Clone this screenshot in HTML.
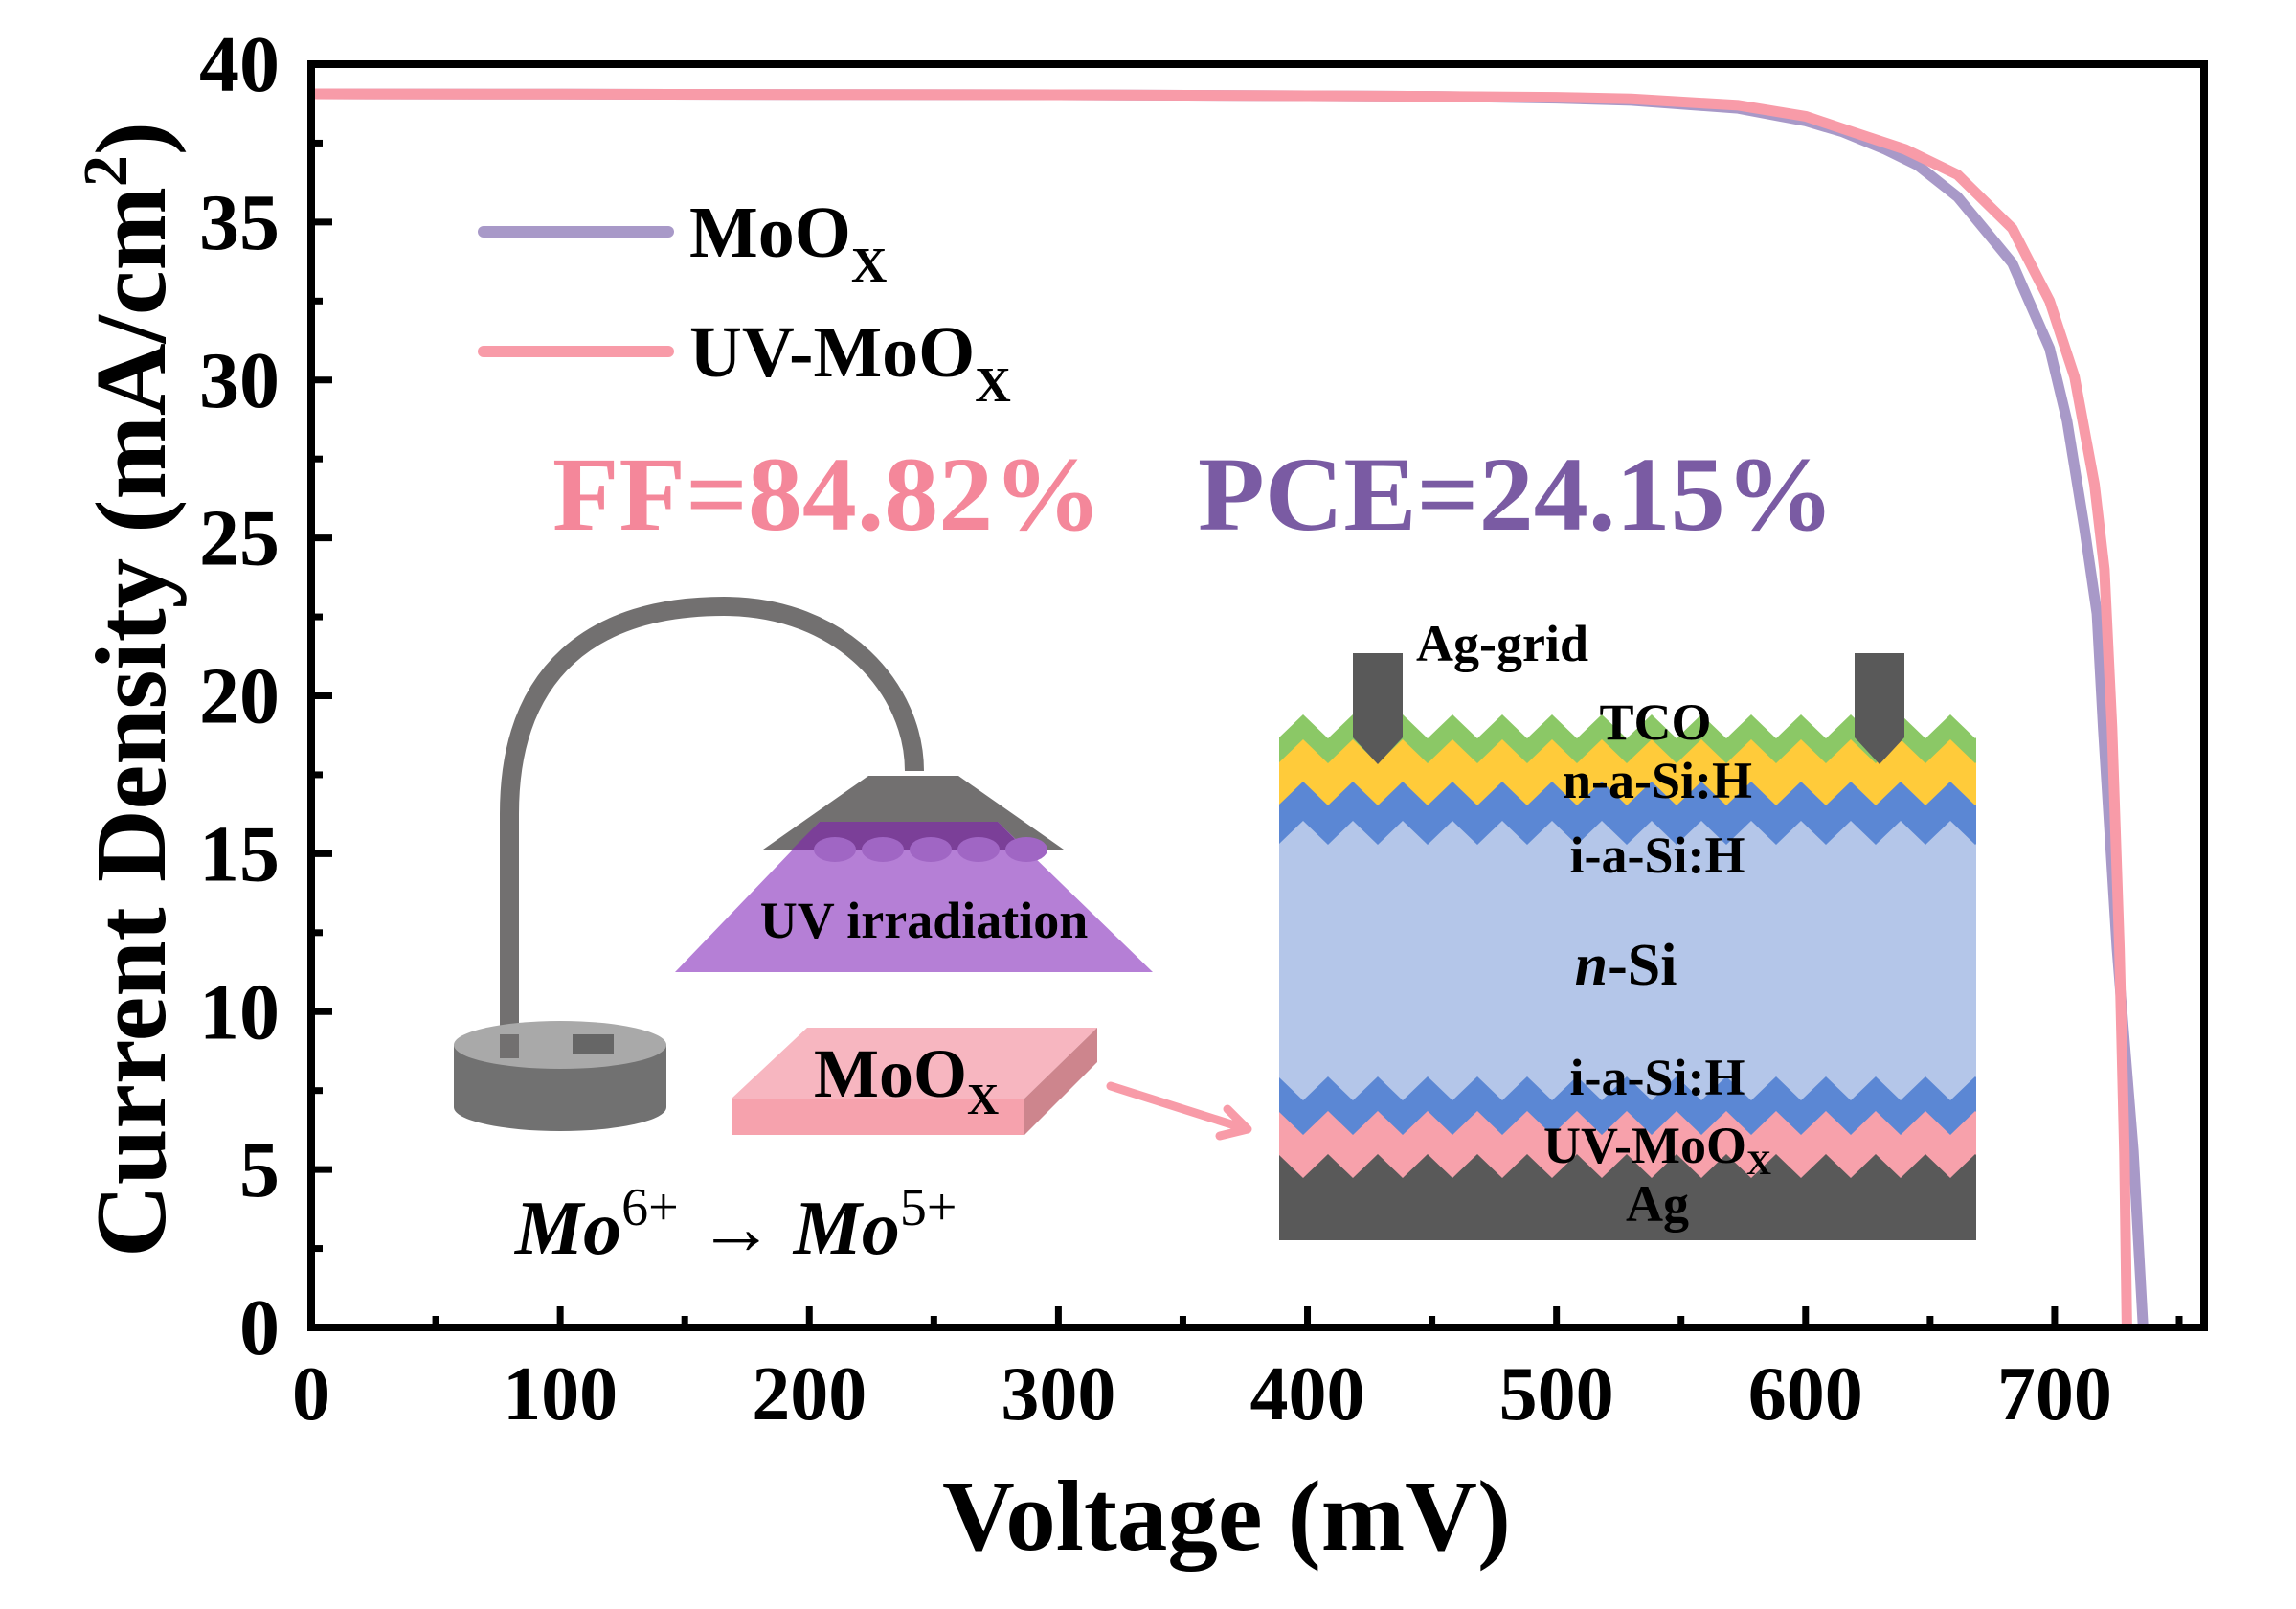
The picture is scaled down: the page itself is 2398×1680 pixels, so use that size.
<!DOCTYPE html>
<html><head><meta charset="utf-8"><style>
html,body{margin:0;padding:0;background:#fff;}
svg{display:block;}
text{font-family:"Liberation Serif",serif;font-weight:bold;}
</style></head><body>
<svg id="chart" width="2398" height="1680" viewBox="0 0 2398 1680" xmlns="http://www.w3.org/2000/svg">
<g id="inset"></g>
<g id="curves"></g>
<g id="axes"></g>
<g id="texts">
  <line x1="505" y1="242" x2="698" y2="242" stroke="#a899c8" stroke-width="12" stroke-linecap="round"/>
  <text x="720" y="268" font-size="76">MoO<tspan font-size="52" dy="26">X</tspan></text>
  <line x1="505" y1="367" x2="698" y2="367" stroke="#f89ba8" stroke-width="12" stroke-linecap="round"/>
  <text x="720" y="393" font-size="76">UV-MoO<tspan font-size="52" dy="26">X</tspan></text>
  <text x="577" y="553" font-size="110" fill="#f4879a" textLength="574" lengthAdjust="spacingAndGlyphs">FF=84.82%</text>
  <text x="1251" y="553" font-size="110" fill="#7a5ba3" textLength="665" lengthAdjust="spacingAndGlyphs">PCE=24.15%</text>
  <text x="1281" y="1618" font-size="105" text-anchor="middle">Voltage (mV)</text>
  <text transform="translate(172,720) rotate(-90)" x="0" y="0" font-size="105" text-anchor="middle">Current Density (mA/cm<tspan font-size="66" dy="-40">2</tspan><tspan dy="40">)</tspan></text>
</g>
</svg>
<script>
// Data
var voltageUV = [0,100,200,300,400,450,500,530,573,600,617,640,661,683,698,708,716,720,723,726,728,729];
var currentUV = [39.06,39.05,39.04,39.03,39.0,38.98,38.95,38.9,38.7,38.35,37.9,37.3,36.5,34.8,32.5,30.1,26.7,24.0,19.0,12.0,5.5,0];
var voltageMoOx = [0,100,200,300,400,450,500,530,573,600,615,632,645,661,683,698,705,712,717,719.5,725,731.6,735.5];
var currentMoOx = [39.06,39.05,39.04,39.03,39.0,38.98,38.92,38.85,38.6,38.2,37.85,37.3,36.8,35.8,33.7,31.0,28.7,25.3,22.6,19.0,12.0,5.6,0];
var xTicks = [0,100,200,300,400,500,600,700];
var yTicks = [0,5,10,15,20,25,30,35,40];

var NS = "http://www.w3.org/2000/svg";
var X0=325, X1=2302, Y0=1386, Y1=67, XMAX=760, YMAX=40;
function sx(v){return X0+(X1-X0)*v/XMAX;}
function sy(j){return Y0-(Y0-Y1)*j/YMAX;}
function mk(tag, attrs, parent){var e=document.createElementNS(NS,tag);for(var k in attrs)e.setAttribute(k,attrs[k]);parent.appendChild(e);return e;}

// curves
var cg=document.getElementById('curves');
function drawCurve(vs,js,color,name){
  var d='';
  for(var i=0;i<vs.length;i++){d+=(i?'L':'M')+sx(vs[i]).toFixed(1)+','+sy(js[i]).toFixed(1);}
  var p=mk('path',{d:d,fill:'none',stroke:color,'stroke-width':11,'stroke-linejoin':'round'},cg);
  
  
}
drawCurve(voltageMoOx,currentMoOx,'#a899c8','series-moox');
drawCurve(voltageUV,currentUV,'#f89ba8','series-uv-moox');

// axes
var ag=document.getElementById('axes');
var fr=mk('rect',{x:X0,y:Y1,width:X1-X0,height:Y0-Y1,fill:'none',stroke:'#000','stroke-width':8},ag);


for(var v=50; v<XMAX; v+=50){
  var major=(v%100===0);
  var t=mk('line',{x1:sx(v),x2:sx(v),y1:Y0,y2:Y0-(major?22:12),stroke:'#000','stroke-width':7},ag);
  
  
}
for(var j=2.5; j<YMAX; j+=2.5){
  var majorY=(j%5===0);
  var ty=mk('line',{x1:X0,x2:X0+(majorY?22:12),y1:sy(j),y2:sy(j),stroke:'#000','stroke-width':7},ag);
  
  
}
xTicks.forEach(function(v){
  var tl=mk('text',{x:sx(v),y:1482,'font-size':80,'text-anchor':'middle'},ag);
  tl.textContent=v;
  
  
});
yTicks.forEach(function(j){
  var tl=mk('text',{x:292,y:sy(j)+28,'font-size':84,'text-anchor':'end'},ag);
  tl.textContent=j;
  
  
});

// inset illustration
var ig=document.getElementById('inset');
var lamp=mk('path',{d:'M532,1100 L532,850 C532,700 620,633 756,633 C880,633 955,720 955,805',fill:'none',stroke:'#727070','stroke-width':20},ig);


var baseSide=mk('path',{d:'M474,1091 L474,1156 A111,25 0 0 0 696,1156 L696,1091 Z',fill:'#717171'},ig);


var baseTop=mk('ellipse',{cx:585,cy:1091,rx:111,ry:25,fill:'#a9a9a9'},ig);


var knob=mk('rect',{x:598,y:1080,width:43,height:20,fill:'#666'},ig);


var armEnd=mk('line',{x1:532,y1:1080,x2:532,y2:1105,stroke:'#727070','stroke-width':20},ig);


var shade=mk('polygon',{points:'907,810 1001,810 1111,887 797,887',fill:'#727070'},ig);


var cone=mk('polygon',{points:'856,858 1042,858 1204,1015 705,1015',fill:'#b57fd6'},ig);


var overlap=mk('polygon',{points:'856,858 1042,858 1071,887 827,887',fill:'#7b3f98'},ig);


for(var b=0;b<5;b++){
  var bulb=mk('ellipse',{cx:872+b*50,cy:887,rx:22,ry:13,fill:'#a066c4'},ig);
  
  
}
var uvT=mk('text',{x:965,y:979,'font-size':54,'text-anchor':'middle'},ig);
uvT.textContent='UV irradiation';


var slabTop=mk('polygon',{points:'764,1147 843,1073 1146,1073 1070,1147',fill:'#f7b6c0'},ig);


var slabFront=mk('rect',{x:764,y:1147,width:306,height:38,fill:'#f6a2ad'},ig);


var slabSide=mk('polygon',{points:'1070,1147 1146,1073 1146,1109 1070,1185',fill:'#cd858d'},ig);


var mT=mk('text',{x:850,y:1145,'font-size':72},ig);
mT.innerHTML='MoO<tspan font-size="46" dy="18">X</tspan>';


var arr=mk('path',{d:'M1160,1134 L1302,1179 M1282,1158 L1303,1179 L1274,1186',fill:'none',stroke:'#f89ba8','stroke-width':9,'stroke-linecap':'round','stroke-linejoin':'round'},ig);


var rx=mk('text',{x:538,y:1309,'font-size':80,'font-style':'italic'},ig);
rx.innerHTML='Mo<tspan font-size="56" font-style="normal" font-weight="normal" dy="-30">6+</tspan><tspan font-style="normal" font-size="80" dy="30"> → </tspan>Mo<tspan font-size="56" font-style="normal" font-weight="normal" dy="-30">5+</tspan>';



// solar cell stack
var SL=1336, SR=2064, SB=1295, P=52, A=25;
function zig(top, phase){
  var xs=[];
  for(var k=-40;k<40;k++){
    var px=phase+k*P, vx=px+P/2;
    if(px>SL && px<SR) xs.push([px,top]);
    if(vx>SL && vx<SR) xs.push([vx,top+A]);
  }
  xs.sort(function(a,b){return a[0]-b[0];});
  function yAt(x){ // triangular wave value
    var r=((x-phase)%P+P)%P; var f=r<=P/2 ? r/(P/2) : (P-r)/(P/2);
    return top+A*f;
  }
  var pts=[SL+','+yAt(SL)];
  xs.forEach(function(p){pts.push(p[0]+','+p[1]);});
  pts.push(SR+','+yAt(SR));
  pts.push(SR+','+SB);
  pts.push(SL+','+SB);
  return pts.join(' ');
}
var layers=[
  ['#8bc866',746,1361,'layer-tco'],
  ['#ffcb3a',772,1361,'layer-n-a-si'],
  ['#5b87d4',816,1361,'layer-i-a-si-top'],
  ['#b4c6e9',857,1361,'layer-n-si'],
  ['#5b87d4',1124,1387,'layer-i-a-si-bottom'],
  ['#f7a1ab',1160,1387,'layer-uv-moox'],
  ['#595959',1205,1387,'layer-ag']
];
layers.forEach(function(L){
  var pl=mk('polygon',{points:zig(L[1],L[2]),fill:L[0]},ig);
  
  
});
[1413,1937].forEach(function(gx){
  var f=mk('polygon',{points:gx+',682 '+(gx+52)+',682 '+(gx+52)+',770 '+(gx+26)+',798 '+gx+',770',fill:'#595959'},ig);
  
  
});
var labels=[
  ['Ag-grid',1479,690,54,'start','ag-grid-label'],
  ['TCO',1729,772,54,'middle','tco-label'],
  ['n-a-Si:H',1731,833,54,'middle','n-a-si-label'],
  ['i-a-Si:H',1731,911,54,'middle','i-a-si-top-label'],
  ['i-a-Si:H',1731,1143,54,'middle','i-a-si-bottom-label'],
  ['Ag',1731,1275,54,'middle','ag-label']
];
labels.forEach(function(L){
  var t=mk('text',{x:L[1],y:L[2],'font-size':L[3],'text-anchor':L[4]},ig);
  t.textContent=L[0];
  
  
});
var nsi=mk('text',{x:1698,y:1028,'font-size':62,'text-anchor':'middle'},ig);
nsi.innerHTML='<tspan font-style="italic">n</tspan>-Si';


var uvm=mk('text',{x:1731,y:1214,'font-size':54,'text-anchor':'middle'},ig);
uvm.innerHTML='UV-MoO<tspan font-size="36" dy="12">X</tspan>';


</script>
</body></html>
